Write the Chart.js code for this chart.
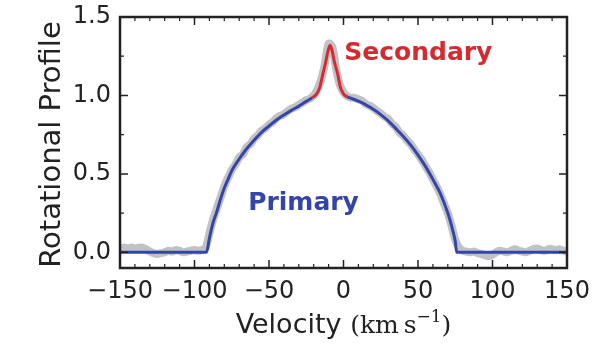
<!DOCTYPE html>
<html lang="en">
<head>
<meta charset="UTF-8">
<title>Rotational Profile</title>
<script src="https://cdn.jsdelivr.net/npm/chart.js"></script>
<style>
  html, body { margin: 0; padding: 0; background: #fff; }
  .chart-container { position: relative; width: 598px; height: 359px; }
</style>
</head>
<body>
<div class="chart-container"><canvas id="chart" width="598" height="359"></canvas></div>
<script>
// observed profile (grey band)
const obsVelocity = [
  -150, -147.5, -145, -142.5, -140, -137.5, -135, -132.5, -130, -127.5,
  -125, -122.5, -120, -117.5, -115, -112.5, -110, -107.5, -105, -102.5,
  -100, -97.5, -95, -92.5, -90, -87.5, -85, -82.5, -80, -77.5,
  -75, -72.5, -70, -67.5, -65, -62.5, -60, -57.5, -55, -52.5,
  -50, -47.5, -45, -42.5, -40, -37.5, -35, -32.5, -30, -27.5,
  -25, -22.5, -20, -17.5, -15, -12.5, -10, -7.5, -5, -2.5,
  0, 2.5, 5, 7.5, 10, 12.5, 15, 17.5, 20, 22.5,
  25, 27.5, 30, 32.5, 35, 37.5, 40, 42.5, 45, 47.5,
  50, 52.5, 55, 57.5, 60, 62.5, 65, 67.5, 70, 72.5,
  75, 77.5, 80, 82.5, 85, 87.5, 90, 92.5, 95, 97.5,
  100, 102.5, 105, 107.5, 110, 112.5, 115, 117.5, 120, 122.5,
  125, 127.5, 130, 132.5, 135, 137.5, 140, 142.5, 145, 147.5,
  150
];
const obsProfile = [
  0.01, 0.03, 0.025, 0.03, 0.025, 0.03, 0.03, 0.02, 0.005, -0.005,
  -0.01, -0.005, 0.0, 0.01, 0.005, 0.015, 0.01, 0.0, 0.005, 0.01,
  0.015, 0.01, 0.015, 0.03, 0.12, 0.21, 0.28, 0.35, 0.42, 0.475,
  0.525, 0.56, 0.605, 0.625, 0.67, 0.69, 0.725, 0.745, 0.775, 0.79,
  0.815, 0.83, 0.855, 0.87, 0.88, 0.9, 0.915, 0.925, 0.94, 0.955,
  0.97, 0.98, 1.0, 1.04, 1.1, 1.2, 1.33, 1.31, 1.17, 1.07,
  1.02, 0.995, 0.985, 0.985, 0.975, 0.965, 0.945, 0.935, 0.92, 0.9,
  0.885, 0.865, 0.85, 0.82, 0.8, 0.765, 0.745, 0.715, 0.69, 0.655,
  0.625, 0.59, 0.55, 0.51, 0.465, 0.42, 0.37, 0.31, 0.25, 0.17,
  0.08, 0.03, 0.01, 0.005, 0.0, 0.005, -0.005, -0.01, -0.02, -0.025,
  -0.015, 0.0, 0.01, 0.005, 0.0, 0.01, 0.02, 0.01, 0.005, 0.0,
  0.01, 0.02, 0.025, 0.015, 0.01, 0.02, 0.02, 0.015, 0.02, 0.01,
  0.005
];

// primary model (blue); gap where the secondary peak is drawn
const primaryVelocity = [
  -150, -92, -90, -87.5, -85, -82.5, -80, -77.5, -75, -70, -65, -60, -55,
  -50, -45, -40, -35, -30, -25, -21, -9,
  2.5, 5, 10, 15, 20, 25, 30, 35, 40, 45, 50, 55, 60, 65, 70, 72.5, 75, 76, 150
];
const primaryProfile = [
  0, 0, 0.09, 0.19, 0.26, 0.34, 0.41, 0.465, 0.52, 0.595, 0.66, 0.715, 0.765,
  0.805, 0.843, 0.875, 0.905, 0.932, 0.962, 0.985, null,
  0.99, 0.982, 0.963, 0.94, 0.912, 0.878, 0.838, 0.79, 0.74, 0.685, 0.62, 0.548, 0.465, 0.375, 0.25, 0.17, 0.07, 0, 0
];

// secondary peak (red)
const secondaryVelocity = [-21, -18, -16, -14, -12, -10.5, -9, -7.5, -6, -4, -2, 0, 2.5];
const secondaryProfile = [0.985, 1.01, 1.05, 1.13, 1.21, 1.28, 1.32, 1.28, 1.21, 1.14, 1.05, 1.01, 0.99];

const xTicks = [-150, -100, -50, 0, 50, 100, 150];
const yTicks = [0.0, 0.5, 1.0, 1.5];

const toPoints = (xs, ys) => xs.map((v, i) => ({ x: v, y: ys[i] }));
const fmtMinus = v => String(v).replace('-', '\u2212');

// inward ticks on all four sides + frame
const frameTicks = {
  id: 'frameTicks',
  afterDatasetsDraw(chart) {
    const { ctx, chartArea: a, scales: { x, y } } = chart;
    ctx.save();
    ctx.strokeStyle = '#222';
    const mark = (px, len, w, horizontal) => {
      ctx.lineWidth = w;
      ctx.beginPath();
      if (horizontal) {
        ctx.moveTo(a.left, px); ctx.lineTo(a.left + len, px);
        ctx.moveTo(a.right, px); ctx.lineTo(a.right - len, px);
      } else {
        ctx.moveTo(px, a.bottom); ctx.lineTo(px, a.bottom - len);
        ctx.moveTo(px, a.top); ctx.lineTo(px, a.top + len);
      }
      ctx.stroke();
    };
    for (let v = -140; v < 150; v += 10) {
      if (v % 50 !== 0) mark(x.getPixelForValue(v), 4, 1.2, false);
    }
    xTicks.forEach(v => mark(x.getPixelForValue(v), 8, 1.5, false));
    [0.25, 0.75, 1.25].forEach(v => mark(y.getPixelForValue(v), 4, 1.2, true));
    yTicks.forEach(v => mark(y.getPixelForValue(v), 8, 1.5, true));
    ctx.lineWidth = 2.5;
    ctx.strokeRect(a.left, a.top, a.right - a.left, a.bottom - a.top);
    ctx.restore();
  },
  afterDraw(chart) {
    const { ctx, chartArea: a, scales: { x, y } } = chart;
    ctx.save();
    // series labels
    ctx.font = 'bold 25px "DejaVu Sans"';
    ctx.textBaseline = 'middle';
    ctx.textAlign = 'left';
    ctx.fillStyle = '#d42a30';
    ctx.fillText('Secondary', x.getPixelForValue(0.5), y.getPixelForValue(1.27));
    ctx.fillStyle = '#3545a6';
    ctx.fillText('Primary', x.getPixelForValue(-64), y.getPixelForValue(0.31));

    // x axis title: sans word + serif units
    ctx.fillStyle = '#222';
    ctx.textBaseline = 'alphabetic';
    const sans = '27px "DejaVu Sans"';
    const serif = '25px "DejaVu Serif"';
    const sup = '17px "DejaVu Serif"';
    const parts = [
      ['Velocity ', sans, 0],
      ['(km\u2009s', serif, 0],
      ['\u22121', sup, -11],
      [')', serif, 0]
    ];
    let total = 0;
    parts.forEach(p => { ctx.font = p[1]; total += ctx.measureText(p[0]).width; });
    let cx = (a.left + a.right) / 2 - total / 2;
    const base = 333;
    parts.forEach(p => {
      ctx.font = p[1];
      ctx.fillText(p[0], cx, base + p[2]);
      cx += ctx.measureText(p[0]).width;
    });

    // y axis title
    ctx.font = '29px "DejaVu Sans"';
    ctx.textAlign = 'center';
    ctx.translate(60, (a.top + a.bottom) / 2 + 2);
    ctx.rotate(-Math.PI / 2);
    ctx.fillText('Rotational Profile', 0, 0);
    ctx.restore();
  }
};

new Chart(document.getElementById('chart').getContext('2d'), {
  type: 'line',
  data: {
    datasets: [
      {
        label: 'Secondary',
        data: toPoints(secondaryVelocity, secondaryProfile),
        borderColor: '#d42a30',
        borderWidth: 3,
        pointRadius: 0,
        cubicInterpolationMode: 'monotone',
        order: 1
      },
      {
        label: 'Primary',
        data: toPoints(primaryVelocity, primaryProfile),
        borderColor: '#3545a6',
        borderWidth: 3,
        pointRadius: 0,
        spanGaps: false,
        cubicInterpolationMode: 'monotone',
        order: 2
      },
      {
        label: 'Observed',
        data: toPoints(obsVelocity, obsProfile),
        borderColor: '#c0c2c5',
        borderWidth: 8,
        borderCapStyle: 'round',
        borderJoinStyle: 'round',
        pointRadius: 0,
        tension: 0.3,
        order: 3
      }
    ]
  },
  options: {
    responsive: false,
    maintainAspectRatio: false,
    animation: false,
    layout: { padding: { left: 0, right: 31, top: 17, bottom: 0 } },
    plugins: { legend: { display: false }, tooltip: { enabled: false } },
    scales: {
      x: {
        type: 'linear',
        min: -150,
        max: 150,
        afterBuildTicks: s => { s.ticks = xTicks.map(v => ({ value: v })); },
        afterFit: s => { s.height = 91; s.paddingLeft = 0; s.paddingRight = 0; },
        grid: { display: false, drawTicks: false },
        border: { display: false },
        ticks: {
          padding: 9,
          color: '#222',
          font: { family: 'DejaVu Sans', size: 24 },
          maxRotation: 0,
          callback: v => fmtMinus(v)
        }
      },
      y: {
        type: 'linear',
        min: -0.1,
        max: 1.5,
        afterBuildTicks: s => { s.ticks = yTicks.map(v => ({ value: v })); },
        afterFit: s => { s.width = 120; s.paddingTop = 0; s.paddingBottom = 0; },
        grid: { display: false, drawTicks: false },
        border: { display: false },
        ticks: {
          padding: 9,
          color: '#222',
          font: { family: 'DejaVu Sans', size: 24 },
          callback: v => v.toFixed(1)
        }
      }
    }
  },
  plugins: [frameTicks]
});
</script>
</body>
</html>
